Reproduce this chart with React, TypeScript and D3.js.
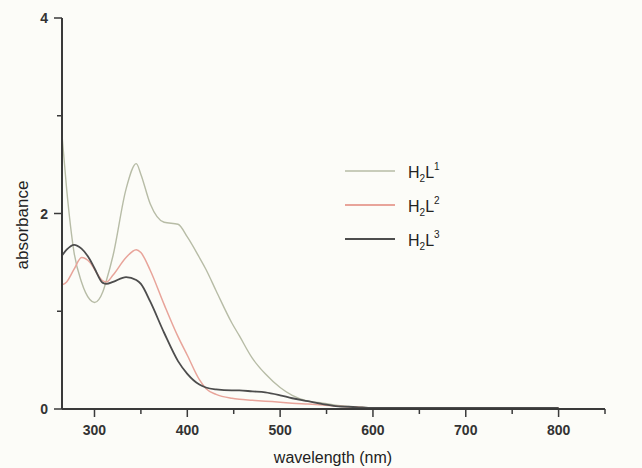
import React, { useEffect, useRef } from 'react'
import * as d3 from 'd3'

// wavelength (nm) sample points shared by all three spectra
const wavelengths = [265, 270, 278, 286, 295, 300, 309, 313, 320, 334, 345, 350, 360, 375, 390, 400, 413, 420, 431, 448, 456, 470, 484, 500, 513, 530, 546, 560, 582, 600, 650, 700, 750, 800]

const h2l1 = [2.8, 2.25, 1.6, 1.3, 1.12, 1.09, 1.2, 1.32, 1.57, 2.25, 2.51, 2.4, 2.1, 1.91, 1.89, 1.76, 1.55, 1.43, 1.21, 0.88, 0.75, 0.52, 0.36, 0.22, 0.14, 0.08, 0.06, 0.04, 0.02, 0.01, 0.01, 0.01, 0.01, 0.01]
const h2l2 = [1.27, 1.3, 1.43, 1.55, 1.5, 1.43, 1.31, 1.3, 1.37, 1.55, 1.63, 1.6, 1.42, 1.07, 0.74, 0.55, 0.3, 0.21, 0.15, 0.11, 0.1, 0.09, 0.08, 0.07, 0.06, 0.05, 0.04, 0.03, 0.02, 0.01, 0.01, 0.01, 0.01, 0.01]
const h2l3 = [1.57, 1.63, 1.68, 1.64, 1.53, 1.44, 1.29, 1.28, 1.3, 1.35, 1.32, 1.28, 1.1, 0.78, 0.49, 0.36, 0.25, 0.22, 0.2, 0.19, 0.19, 0.18, 0.17, 0.14, 0.11, 0.08, 0.05, 0.03, 0.02, 0.01, 0.01, 0.01, 0.01, 0.01]

const seriesNames = ['1', '2', '3']
const xMajorTicks = [300, 400, 500, 600, 700, 800]
const xMinorTicks = [350, 450, 550, 650, 750, 850]
const yMajorTicks = [0, 2, 4]
const yMinorTicks = [1, 3]

const colors = ['#b7bca6', '#e8a49a', '#4d4d4d']
const widths = [1.4, 1.5, 1.8]

const W = 642
const H = 468
const font = '"Liberation Sans", Arial, sans-serif'

export default function App() {
  const ref = useRef<SVGSVGElement>(null)

  useEffect(() => {
    const svg = d3.select(ref.current)
    svg.selectAll('*').remove()

    const x = d3.scaleLinear().domain([265, 850]).range([62, 605])
    const y = d3.scaleLinear().domain([0, 4]).range([409, 18])

    svg.append('rect').attr('width', W).attr('height', H).attr('fill', '#fcfcf8')

    const series = [h2l1, h2l2, h2l3]
    const line = d3.line<number>()
      .x((d, i) => x(wavelengths[i]))
      .y(d => y(d))
      .curve(d3.curveMonotoneX)

    svg.selectAll('path.spec')
      .data(series)
      .enter()
      .append('path')
        .attr('class', 'spec')
        .attr('d', d => line(d))
        .attr('fill', 'none')
        .attr('stroke', (d, i) => colors[i])
        .attr('stroke-width', (d, i) => widths[i])

    // axes
    const axisColor = '#3a3a3a'
    const g = svg.append('g')
    g.append('line').attr('x1', x(265)).attr('x2', x(265)).attr('y1', y(4)).attr('y2', y(0))
      .attr('stroke', axisColor).attr('stroke-width', 2)
    g.append('line').attr('x1', x(265)).attr('x2', x(850)).attr('y1', y(0)).attr('y2', y(0))
      .attr('stroke', axisColor).attr('stroke-width', 2)

    g.selectAll('line.ymaj').data(yMajorTicks).enter().append('line')
      .attr('x1', x(265) - 8).attr('x2', x(265)).attr('y1', d => y(d)).attr('y2', d => y(d))
      .attr('stroke', axisColor).attr('stroke-width', 1.5)
    g.selectAll('line.ymin').data(yMinorTicks).enter().append('line')
      .attr('x1', x(265) - 5).attr('x2', x(265)).attr('y1', d => y(d)).attr('y2', d => y(d))
      .attr('stroke', axisColor).attr('stroke-width', 1.5)
    g.selectAll('text.ylab').data(yMajorTicks).enter().append('text')
      .attr('x', 48).attr('y', d => y(d) + 5)
      .attr('text-anchor', 'end')
      .attr('font-family', font).attr('font-size', 14).attr('font-weight', 'bold')
      .attr('fill', '#333')
      .text(d => d)

    g.selectAll('line.xmaj').data(xMajorTicks).enter().append('line')
      .attr('x1', d => x(d)).attr('x2', d => x(d)).attr('y1', y(0)).attr('y2', y(0) + 8)
      .attr('stroke', axisColor).attr('stroke-width', 1.5)
    g.selectAll('line.xmin').data(xMinorTicks).enter().append('line')
      .attr('x1', d => x(d)).attr('x2', d => x(d)).attr('y1', y(0)).attr('y2', y(0) + 5)
      .attr('stroke', axisColor).attr('stroke-width', 1.5)
    g.selectAll('text.xlab').data(xMajorTicks).enter().append('text')
      .attr('x', d => x(d)).attr('y', 435)
      .attr('text-anchor', 'middle')
      .attr('font-family', font).attr('font-size', 14).attr('font-weight', 'bold')
      .attr('fill', '#333')
      .text(d => d)

    svg.append('text')
      .attr('x', 333).attr('y', 463)
      .attr('text-anchor', 'middle')
      .attr('font-family', font).attr('font-size', 16)
      .attr('fill', '#222')
      .text('wavelength (nm)')

    svg.append('text')
      .attr('transform', 'translate(28,225) rotate(-90)')
      .attr('text-anchor', 'middle')
      .attr('font-family', font).attr('font-size', 17)
      .attr('fill', '#222')
      .text('absorbance')

    // legend
    const legend = svg.append('g')
    seriesNames.forEach((n, i) => {
      const ly = 171 + i * 34
      legend.append('line')
        .attr('x1', 345).attr('x2', 395).attr('y1', ly).attr('y2', ly)
        .attr('stroke', colors[i]).attr('stroke-width', widths[i] + 0.3)
      const t = legend.append('text')
        .attr('x', 408).attr('y', ly + 7)
        .attr('font-family', font).attr('font-size', 16)
        .attr('fill', '#222')
      t.append('tspan').text('H')
      t.append('tspan').attr('font-size', 10).attr('dy', 4).text('2')
      t.append('tspan').attr('dy', -4).text('L')
      t.append('tspan').attr('font-size', 10).attr('dy', -8).text(n)
    })
  }, [])

  return (
    <svg ref={ref} width={W} height={H}
      style={{ position: 'absolute', left: 0, top: 0, display: 'block' }} />
  )
}
